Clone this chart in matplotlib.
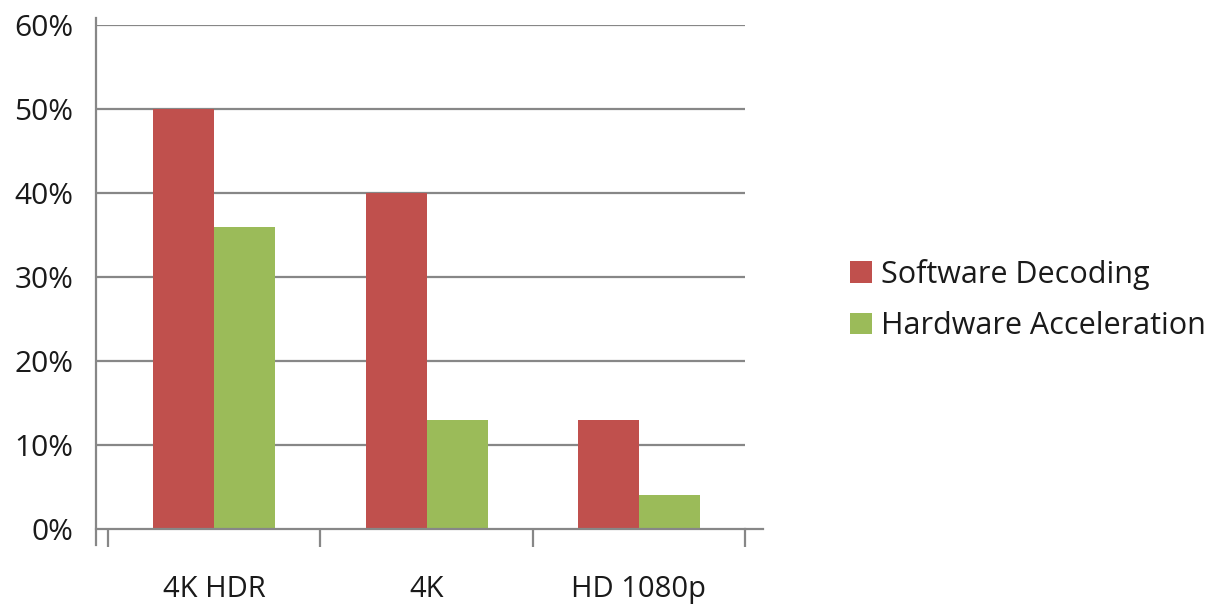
import numpy as np
import matplotlib
matplotlib.use("Agg")
import matplotlib.pyplot as plt
from matplotlib.lines import Line2D

categories = ["4K HDR", "4K", "HD 1080p"]
software = [50, 40, 13]
hardware = [36, 13, 4]
series_names = ["Software Decoding", "Hardware Acceleration"]
yticks = [0, 10, 20, 30, 40, 50, 60]

plt.rcParams["font.family"] = ["Open Sans", "DejaVu Sans"]

W, H = 1227, 606
fig = plt.figure(figsize=(W / 100, H / 100), dpi=100)
left_px, right_px, zero_px, top_px = 96, 745, 529, 25
ax = fig.add_axes([left_px / W, (H - zero_px) / H, (right_px - left_px) / W, (zero_px - top_px) / H])

unit = (745 - 108) / 3
ax.set_xlim(-0.5 - (108 - left_px) / unit, 2.5)
ax.set_ylim(0, 60)

x = np.arange(len(categories))
bw = 61 / unit
ax.bar(x - bw / 2, software, bw, color="#C0504D", label=series_names[0], zorder=3)
ax.bar(x + bw / 2, hardware, bw, color="#9BBB59", label=series_names[1], zorder=3)

grid_c = "#878787"
for v in yticks[1:]:
    ax.axhline(v, color=grid_c, lw=1.6, zorder=1)

for s in ["top", "right", "left"]:
    ax.spines[s].set_visible(False)
ax.spines["bottom"].set_color(grid_c)
ax.spines["bottom"].set_linewidth(1.6)
ax.spines["bottom"].set_zorder(4)

# y axis line extends a bit past the plot area
ax.add_line(Line2D([0, 0], [-16 / 504, 1 + 7 / 504], transform=ax.transAxes,
                   color=grid_c, lw=1.6, clip_on=False))
# x axis line extends past the last tick
ax.add_line(Line2D([1, 1 + 18 / 649], [0, 0], transform=ax.transAxes,
                   color=grid_c, lw=1.6, clip_on=False))

ax.set_yticks(yticks)
ax.set_yticklabels([f"{v}%" for v in yticks], fontsize=21.5, color="#1a1a1a")
ax.tick_params(axis="y", length=0, pad=16.5)

ax.set_xticks([-0.5, 0.5, 1.5, 2.5])
ax.set_xticklabels([])
ax.set_xticks(x, minor=True)
ax.set_xticklabels(categories, minor=True, fontsize=21, color="#1a1a1a")
ax.tick_params(axis="x", which="major", length=13, width=1.6, color=grid_c, direction="out")
ax.tick_params(axis="x", which="minor", length=0, pad=33)

ax.legend(loc="center left", bbox_to_anchor=(838 / W, 1 - 300 / H), bbox_transform=fig.transFigure,
          frameon=False, fontsize=22, handlelength=0.7, handleheight=0.7, handletextpad=0.3,
          labelspacing=0.7, borderaxespad=0, labelcolor="#1a1a1a")

fig.savefig("out.png", dpi=100)
